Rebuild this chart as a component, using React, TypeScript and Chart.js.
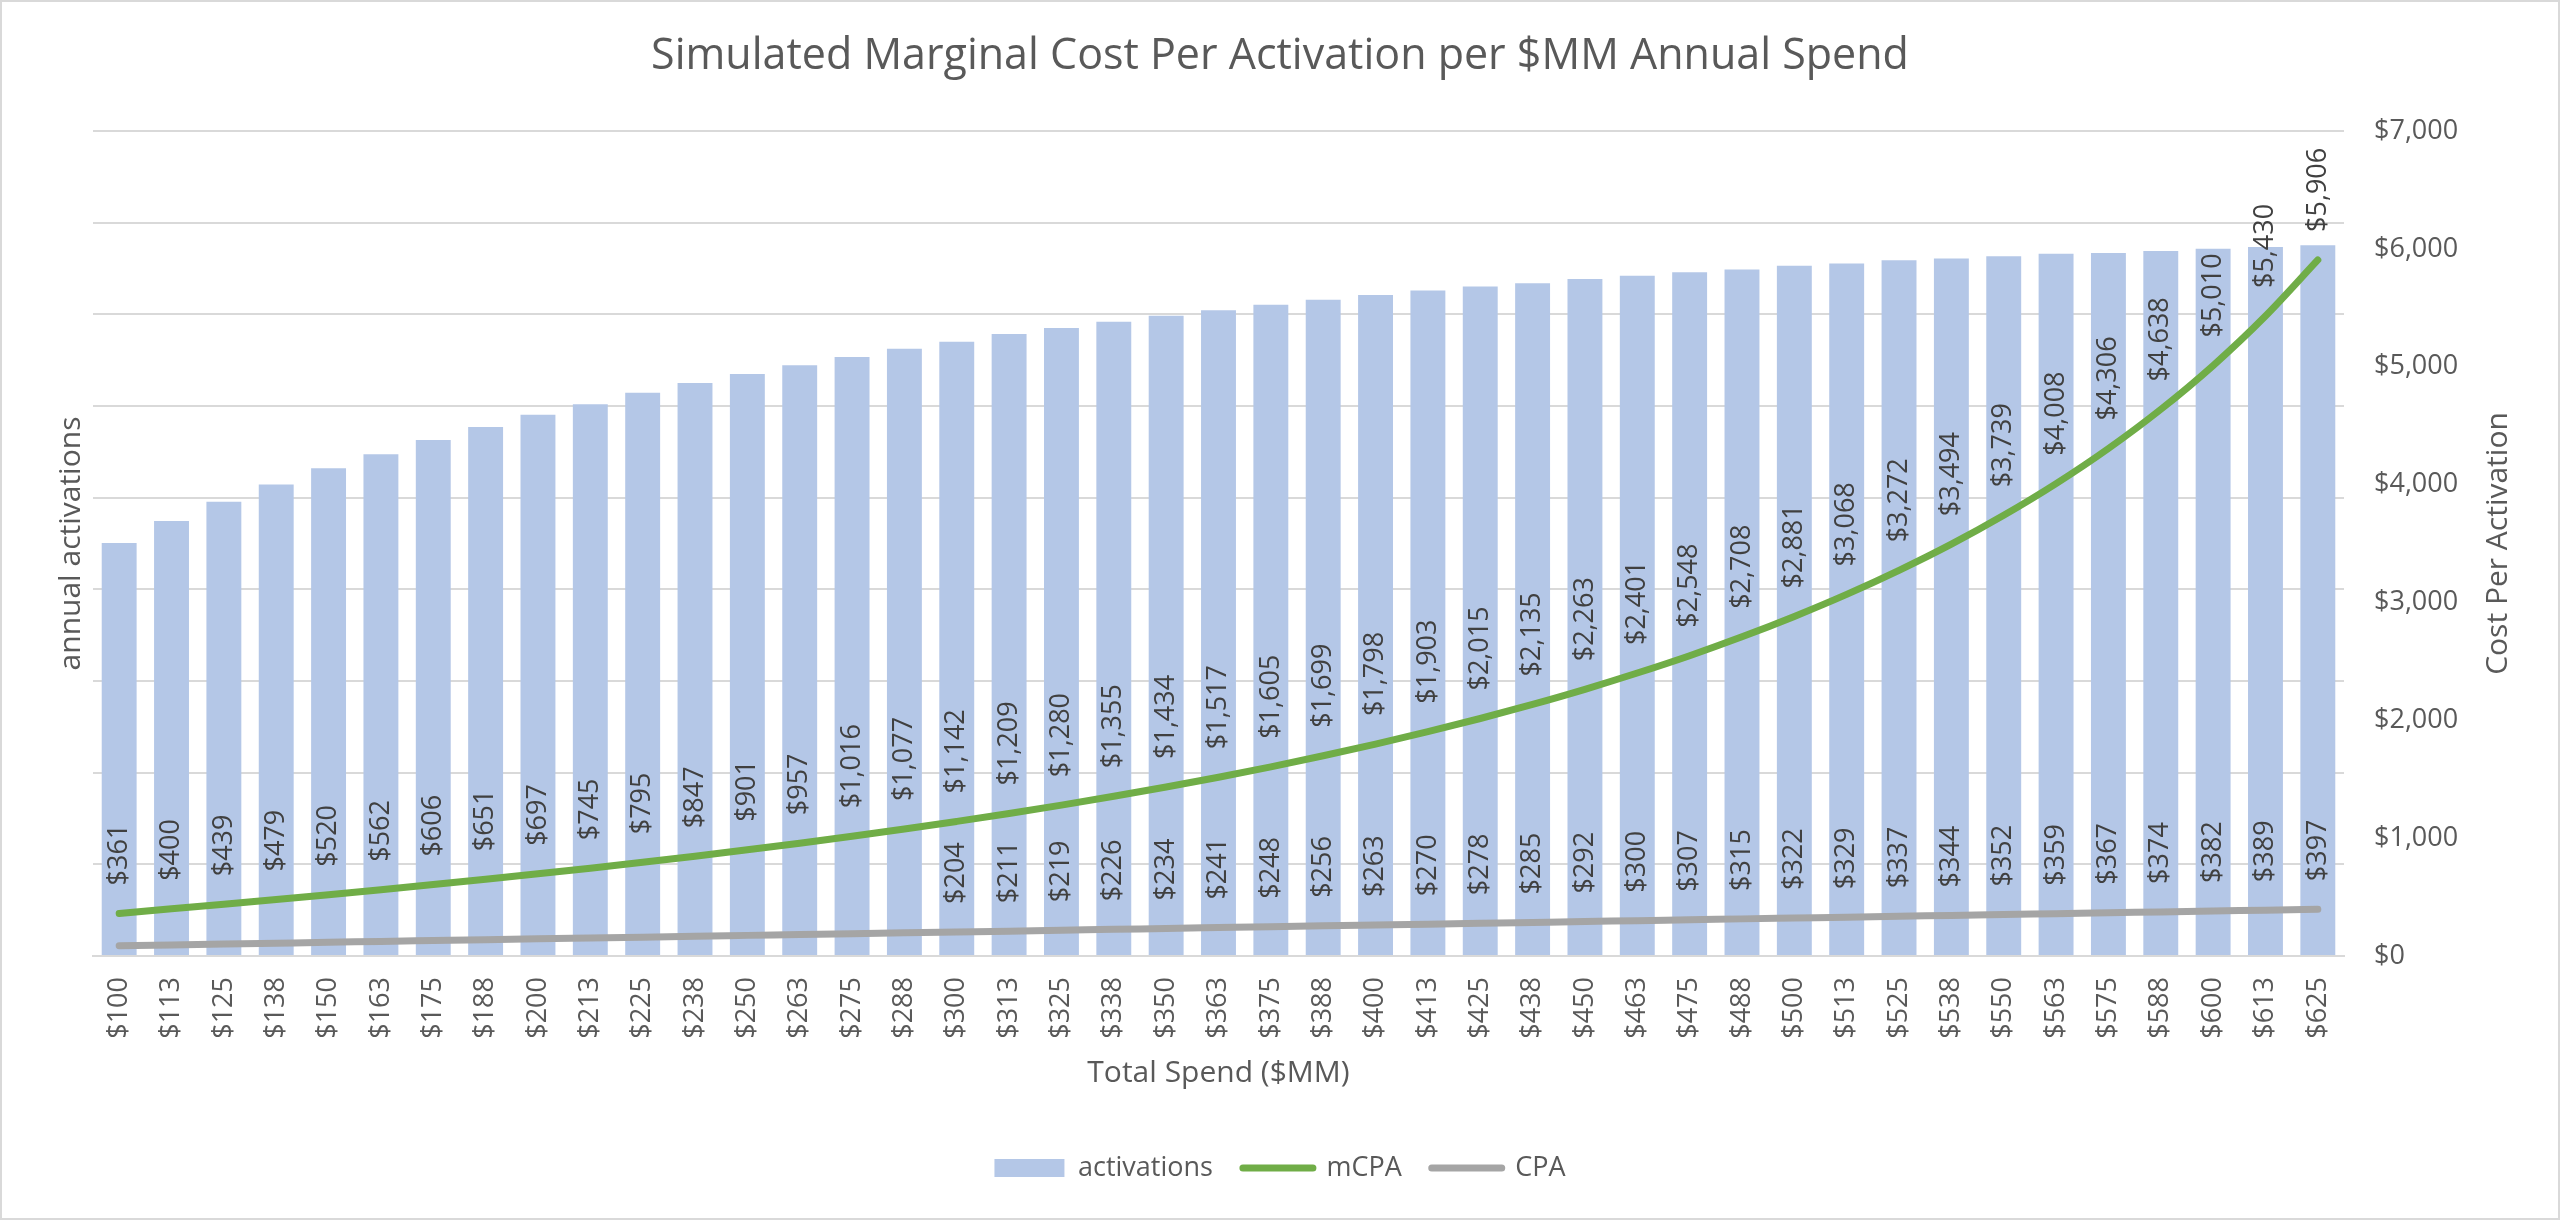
import { useEffect, useRef } from "react";
import { Chart, registerables } from "chart.js";
import type { Plugin, ChartConfiguration } from "chart.js";

Chart.register(...registerables);

const TITLE = "Simulated Marginal Cost Per Activation per $MM Annual Spend";

const SPEND_LABELS = [
  "$100", "$113", "$125", "$138", "$150", "$163", "$175", "$188", "$200", "$213", "$225",
  "$238", "$250", "$263", "$275", "$288", "$300", "$313", "$325", "$338", "$350", "$363",
  "$375", "$388", "$400", "$413", "$425", "$438", "$450", "$463", "$475", "$488", "$500",
  "$513", "$525", "$538", "$550", "$563", "$575", "$588", "$600", "$613", "$625",
];

// left axis has no labels; read against its gridlines (0 .. 1.8M, step 200k)
const ACTIVATIONS = [
  901000, 949000, 991000, 1029000, 1064000, 1095000, 1126000, 1154000, 1181000, 1204000, 1229000,
  1250000, 1270000, 1289000, 1307000, 1325000, 1340000, 1357000, 1370000, 1384000, 1397000, 1409000,
  1421000, 1432000, 1442000, 1452000, 1461000, 1468000, 1477000, 1484000, 1492000, 1498000, 1506000,
  1511000, 1518000, 1522000, 1527000, 1532000, 1534000, 1538000, 1543000, 1547000, 1551000,
];

const MCPA = [
  361, 400, 439, 479, 520, 562, 606, 651, 697, 745, 795,
  847, 901, 957, 1016, 1077, 1142, 1209, 1280, 1355, 1434, 1517,
  1605, 1699, 1798, 1903, 2015, 2135, 2263, 2401, 2548, 2708, 2881,
  3068, 3272, 3494, 3739, 4008, 4306, 4638, 5010, 5430, 5906,
];

const CPA = [
  87, 94, 102, 109, 116, 124, 131, 138, 146, 153, 160,
  168, 175, 182, 189, 197, 204, 211, 219, 226, 234, 241,
  248, 256, 263, 270, 278, 285, 292, 300, 307, 315, 322,
  329, 337, 344, 352, 359, 367, 374, 382, 389, 397,
];

// CPA value labels only appear from this spend level on
const CPA_LABELS_FROM = "$300";

const FONT = "'Open Sans', 'Noto Sans', sans-serif";
const TEXT = "#595959";
const LABEL_TEXT = "#404040";
const GRID = "#D9D9D9";
const BAR_BLUE = "#B4C7E7";
const GREEN = "#70AD47";
const GREY = "#A5A5A5";

const money = (v: number) => "$" + Math.round(v).toLocaleString("en-US");

// vertical value labels above the line points, Excel style
const lineLabels: Plugin = {
  id: "lineLabels",
  afterDatasetsDraw(chart) {
    const { ctx } = chart;
    const cpaStart = SPEND_LABELS.indexOf(CPA_LABELS_FROM);
    ctx.save();
    ctx.font = `27px ${FONT}`;
    ctx.fillStyle = LABEL_TEXT;
    ctx.textAlign = "left";
    ctx.textBaseline = "middle";
    [1, 2].forEach((di) => {
      const meta = chart.getDatasetMeta(di);
      const values = chart.data.datasets[di].data as number[];
      meta.data.forEach((pt, i) => {
        if (di === 2 && i < cpaStart) return;
        ctx.save();
        ctx.translate(pt.x, pt.y - 28);
        ctx.rotate(-Math.PI / 2);
        ctx.fillText(money(values[i]), 0, 0);
        ctx.restore();
      });
    });
    ctx.restore();
  },
};

// secondary axis title reads bottom-to-top (Chart.js would rotate it the other way)
const rightTitle: Plugin = {
  id: "rightTitle",
  afterDraw(chart) {
    const s = chart.scales.y1;
    const { ctx } = chart;
    ctx.save();
    ctx.font = `30px ${FONT}`;
    ctx.fillStyle = TEXT;
    ctx.textAlign = "center";
    ctx.textBaseline = "middle";
    ctx.translate(s.right - 60, (s.top + s.bottom) / 2);
    ctx.rotate(-Math.PI / 2);
    ctx.fillText("Cost Per Activation", 0, 0);
    ctx.restore();
  },
};

const tickFont = { family: FONT, size: 27 };
const titleFont = { family: FONT, size: 30 };

function buildConfig(): ChartConfiguration {
  return {
    type: "bar",
    data: {
      labels: SPEND_LABELS,
      datasets: [
        {
          type: "bar",
          label: "activations",
          data: ACTIVATIONS,
          backgroundColor: BAR_BLUE,
          yAxisID: "y",
          order: 2,
          categoryPercentage: 0.667,
          barPercentage: 1,
        },
        {
          type: "line",
          label: "mCPA",
          data: MCPA,
          borderColor: GREEN,
          backgroundColor: GREEN,
          borderWidth: 7,
          borderCapStyle: "round",
          pointRadius: 0,
          cubicInterpolationMode: "monotone",
          yAxisID: "y1",
          order: 1,
        },
        {
          type: "line",
          label: "CPA",
          data: CPA,
          borderColor: GREY,
          backgroundColor: GREY,
          borderWidth: 7,
          borderCapStyle: "round",
          pointRadius: 0,
          cubicInterpolationMode: "monotone",
          yAxisID: "y1",
          order: 0,
        },
      ],
    } as any,
    options: {
      responsive: true,
      maintainAspectRatio: false,
      animation: false,
      layout: { padding: { top: 0, left: 0, right: 0, bottom: 26.5 } },
      plugins: {
        title: {
          display: true,
          text: TITLE,
          color: TEXT,
          font: { family: FONT, size: 43, weight: "normal" },
          padding: { top: 29, bottom: 48.4 },
        },
        legend: {
          position: "bottom",
          labels: {
            color: TEXT,
            font: tickFont,
            usePointStyle: true,
            pointStyleWidth: 70,
            boxHeight: 18,
            padding: 30,
            generateLabels: (chart) =>
              chart.data.datasets.map((ds: any, i) => ({
                text: ds.label,
                fillStyle: ds.type === "bar" ? ds.backgroundColor : "transparent",
                strokeStyle: ds.type === "bar" ? ds.backgroundColor : ds.borderColor,
                lineWidth: ds.type === "bar" ? 0 : 7,
                lineCap: "round",
                pointStyle: ds.type === "bar" ? "rect" : "line",
                fontColor: TEXT,
                hidden: false,
                datasetIndex: i,
              })),
          },
        },
        tooltip: { enabled: false },
      },
      scales: {
        x: {
          offset: true,
          grid: { display: false, drawTicks: false },
          border: { color: GRID, width: 2 },
          ticks: {
            color: TEXT,
            font: tickFont,
            autoSkip: false,
            maxRotation: 90,
            minRotation: 90,
            padding: 21,
          },
          title: {
            display: true,
            text: "Total Spend ($MM)",
            color: TEXT,
            font: titleFont,
            padding: { top: 0, bottom: 33.5 },
          },
          afterFit: (s: any) => {
            s.height = 168.5;
          },
        },
        y: {
          position: "left",
          min: 0,
          max: 1800000,
          ticks: { display: false, stepSize: 200000 },
          grid: { color: GRID, lineWidth: 2, drawTicks: false },
          border: { display: false },
          title: {
            display: true,
            text: "annual activations",
            color: TEXT,
            font: titleFont,
            padding: { top: 51, bottom: 0 },
          },
          afterFit: (s: any) => {
            s.width = 91;
          },
        },
        y1: {
          position: "right",
          min: 0,
          max: 7000,
          ticks: {
            stepSize: 1000,
            color: TEXT,
            font: tickFont,
            padding: 30,
            callback: (v: number | string) => money(Number(v)),
          },
          grid: { display: false, drawTicks: false },
          border: { display: false },
          afterFit: (s: any) => {
            s.width = 214;
          },
        },
      },
    } as any,
    plugins: [lineLabels, rightTitle],
  };
}

export default function App() {
  const canvasRef = useRef<HTMLCanvasElement>(null);

  useEffect(() => {
    document.body.style.margin = "0";
    if (!canvasRef.current) return;
    const chart = new Chart(canvasRef.current, buildConfig());
    return () => chart.destroy();
  }, []);

  return (
    <div
      style={{
        width: 2560,
        height: 1220,
        boxSizing: "border-box",
        border: "2px solid #D9D9D9",
        background: "#fff",
      }}
    >
      <div style={{ position: "relative", width: 2556, height: 1216 }}>
        <canvas
          ref={canvasRef}
          role="img"
          aria-label="Bars of annual activations with mCPA and CPA lines by total spend"
        />
      </div>
    </div>
  );
}
